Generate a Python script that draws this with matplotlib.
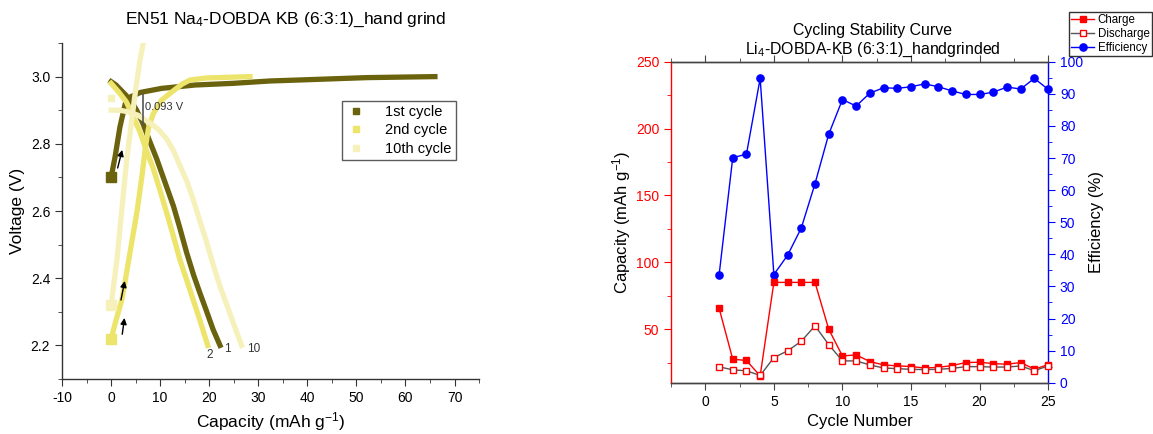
import matplotlib
matplotlib.use("Agg")
import matplotlib.pyplot as plt
from matplotlib.ticker import MultipleLocator

plt.rcParams['font.family'] = ['Liberation Sans', 'DejaVu Sans']
plt.rcParams['mathtext.fontset'] = 'custom'
plt.rcParams['mathtext.rm'] = 'Liberation Sans'
plt.rcParams['mathtext.it'] = 'Liberation Sans:italic'
plt.rcParams['axes.unicode_minus'] = False

# ---- left: galvanostatic curves ----
c1_charge_cap = [0, 0.8, 1.8, 2.9, 4.0, 6.0, 10.3, 17.1, 24.9, 32.4, 38.5, 52.1, 66.0]
c1_charge_v = [2.70, 2.76, 2.85, 2.92, 2.94, 2.953, 2.965, 2.975, 2.98, 2.987, 2.99, 2.997, 3.0]
c1_dis_cap = [0, 1.0, 2.0, 3.0, 4.2, 5.2, 6.5, 7.8, 9.3, 11.0, 12.7, 14.0, 15.4, 16.8, 18.1, 19.5,
              20.8, 22.2]
c1_dis_v = [2.985, 2.975, 2.96, 2.945, 2.925, 2.90, 2.86, 2.81, 2.755, 2.685, 2.615, 2.55, 2.476,
            2.41, 2.356, 2.30, 2.247, 2.2]

c2_charge_cap = [0, 1.1, 2.2, 3.2, 4.2, 5.3, 6.3, 7.0, 7.6, 8.6, 10.3, 12.7, 14.5, 16.1, 19.5, 28.3]
c2_charge_v = [2.22, 2.28, 2.336, 2.42, 2.506, 2.60, 2.705, 2.79, 2.845, 2.89, 2.93, 2.958, 2.978,
               2.99, 2.996, 3.0]
c2_dis_cap = [0, 1.5, 3.1, 4.5, 5.9, 7.2, 8.6, 10.0, 11.3, 12.7, 14.0, 15.4, 16.7, 18.2, 19.7]
c2_dis_v = [2.98, 2.955, 2.925, 2.88, 2.835, 2.78, 2.726, 2.66, 2.596, 2.525, 2.456, 2.395, 2.337,
            2.27, 2.2]

c10_charge_cap = [0, 1.2, 2.2, 3.2, 4.2, 5.0, 5.9, 6.7]
c10_charge_v = [2.32, 2.456, 2.606, 2.755, 2.87, 2.96, 3.05, 3.11]
c10_dis_cap = [0, 1.8, 3.5, 5.5, 7.6, 9.5, 11.3, 12.7, 14.0, 15.4, 16.7, 18.1, 19.5, 20.8, 22.2,
               23.6, 24.9, 26.6]
c10_dis_v = [2.90, 2.90, 2.895, 2.885, 2.865, 2.845, 2.815, 2.78, 2.736, 2.69, 2.636, 2.57, 2.506,
             2.44, 2.376, 2.32, 2.267, 2.2]
c10_extra_cap = [0]
c10_extra_v = [2.935]

cycle_labels = ['1st cycle', '2nd cycle', '10th cycle']
end_labels = ['1', '2', '10']
colors = ['#6b620e', '#ede46c', '#f6f1bb']

# ---- right: cycling stability ----
cycles = list(range(1, 26))
charge = [65.9, 27.6, 26.6, 15.1, 85, 85, 85, 85, 50, 30, 30.8, 25.8, 23.3, 22.6, 22.1,
          21.0, 21.5, 22.8, 25.1, 25.3, 24.3, 23.8, 25.1, 20.1, 23.5]
discharge = [21.9, 19.6, 18.9, 15.4, 28.8, 33.8, 41, 52.5, 38.5, 26.3, 26.3, 23.3, 21.0, 20.5, 20.0,
             19.8, 20.0, 20.7, 22.0, 22.0, 21.7, 21.7, 22.5, 19.0, 22.5]
efficiency = [33.4, 70.1, 71.2, 94.8, 33.7, 39.7, 48.2, 62.0, 77.4, 88.2, 86.2, 90.2, 91.9, 91.7, 92.2,
              93.1, 92.2, 90.9, 89.8, 89.8, 90.5, 92.1, 91.5, 94.8, 91.4]

fig = plt.figure(figsize=(11.53, 4.34), dpi=100)

# ================= left chart =================
ax = fig.add_axes([0.0538, 0.1267, 0.3617, 0.7742])
curves = [
    (c1_charge_cap, c1_charge_v, c1_dis_cap, c1_dis_v),
    (c2_charge_cap, c2_charge_v, c2_dis_cap, c2_dis_v),
    (c10_charge_cap, c10_charge_v, c10_dis_cap, c10_dis_v),
]
for i, (cc, cv, dc, dv) in enumerate(curves):
    ax.plot(cc, cv, color=colors[i], lw=3.8, solid_capstyle='projecting', solid_joinstyle='round',
            marker='s', ms=7, markevery=[0], zorder=2 + i)
    ax.plot(dc, dv, color=colors[i], lw=3.8, solid_capstyle='projecting', solid_joinstyle='round',
            zorder=2 + i)
    ax.plot([], [], ls='none', marker='s', ms=4.5, color=colors[i], label=cycle_labels[i])
ax.plot(c10_extra_cap, c10_extra_v, ls='none', marker='s', ms=4, color=colors[2], zorder=4)

ax.text(c1_dis_cap[-1] + 0.8, 2.19, end_labels[0], fontsize=8.5, color='#333333', va='center')
ax.text(c2_dis_cap[-1] - 0.3, 2.17, end_labels[1], fontsize=8.5, color='#333333', va='center')
ax.text(c10_dis_cap[-1] + 1.2, 2.19, end_labels[2], fontsize=8.5, color='#333333', va='center')

ax.plot([6.47, 6.47], [2.947, 2.86], color='#555555', lw=1.2, zorder=6)
ax.text(7.0, 2.91, '0.093 V', fontsize=8, color='#333333', va='center', zorder=6)

for x0, y0, x1, y1 in [(1.2, 2.72, 2.4, 2.79), (1.9, 2.327, 2.9, 2.40), (2.2, 2.225, 2.8, 2.29)]:
    ax.annotate('', xy=(x1, y1), xytext=(x0, y0),
                arrowprops=dict(arrowstyle='-|>', color='black', lw=1.0, mutation_scale=9), zorder=7)

ax.set_xlim(-10, 75)
ax.set_ylim(2.1, 3.1)
ax.xaxis.set_major_locator(MultipleLocator(10))
ax.xaxis.set_minor_locator(MultipleLocator(5))
ax.yaxis.set_minor_locator(MultipleLocator(0.1))
ax.set_yticks([2.2, 2.4, 2.6, 2.8, 3.0])
ax.yaxis.set_major_formatter(plt.FuncFormatter(lambda v, p: f'{v:.1f}'))
for s in ['top', 'right']:
    ax.spines[s].set_visible(False)
for s in ['left', 'bottom']:
    ax.spines[s].set_color('#333333')
    ax.spines[s].set_linewidth(1.0)
ax.tick_params(which='both', direction='out', colors='#333333', labelcolor='black', labelsize=10)
ax.tick_params(which='major', length=5)
ax.tick_params(which='minor', length=3)
ax.set_xlabel('Capacity (mAh g$^{-1}$)', fontsize=12.5)
ax.set_ylabel('Voltage (V)', fontsize=12.5)
ax.set_title('EN51 Na$_4$-DOBDA KB (6:3:1)_hand grind', fontsize=12.5, x=0.535, pad=14)
leg = ax.legend(loc='upper left', bbox_to_anchor=(0.655, 0.85), fontsize=10.5, frameon=True,
                fancybox=False, edgecolor='#333333', handlelength=1.2, handletextpad=1.4,
                borderpad=0.3, labelspacing=0.3)
leg.get_frame().set_linewidth(1.0)

# ================= right chart =================
ax1 = fig.add_axes([0.582, 0.1182, 0.327, 0.7396])
ax2 = ax1.twinx()

l1, = ax1.plot(cycles, charge, color='red', lw=1.0, marker='s', ms=4.8, mfc='red', mec='red',
               label='Charge', clip_on=False)
l2, = ax1.plot(cycles, discharge, color='#555555', lw=1.0, marker='s', ms=4.8, mfc='white',
               mec='red', mew=1.0, label='Discharge', clip_on=False)
l3, = ax2.plot(cycles, efficiency, color='blue', lw=1.0, marker='o', ms=5.2, mfc='blue', mec='blue',
               label='Efficiency', clip_on=False)

ax1.set_xlim(-2.5, 25)
ax1.set_ylim(10, 250)
ax2.set_ylim(0, 100)
ax1.xaxis.set_major_locator(MultipleLocator(5))
ax1.xaxis.set_minor_locator(MultipleLocator(2.5))
ax1.yaxis.set_major_locator(MultipleLocator(50))
ax1.yaxis.set_minor_locator(MultipleLocator(25))
ax2.yaxis.set_major_locator(MultipleLocator(10))
ax2.yaxis.set_minor_locator(MultipleLocator(5))

ax1.spines['left'].set_color('red')
ax1.spines['right'].set_visible(False)
ax2.spines['right'].set_color('blue')
ax2.spines['left'].set_visible(False)
for a in (ax1, ax2):
    a.spines['top'].set_color('#444444')
    a.spines['bottom'].set_color('#444444')
    for s in a.spines.values():
        s.set_linewidth(1.0)

ax1.tick_params(axis='y', which='both', direction='out', colors='red', labelsize=10)
ax2.tick_params(axis='y', which='both', direction='out', colors='blue', labelsize=10)
ax1.tick_params(axis='x', which='both', direction='out', colors='#444444', labelcolor='black',
                labelsize=10, top=True)
for a in (ax1, ax2):
    a.tick_params(which='major', length=5)
    a.tick_params(which='minor', length=3)
ax1.set_xlabel('Cycle Number', fontsize=12)
ax1.set_ylabel('Capacity (mAh g$^{-1}$)', fontsize=12, labelpad=2)
ax2.set_ylabel('Efficiency (%)', fontsize=12)
ax1.set_title('Cycling Stability Curve\nLi$_4$-DOBDA-KB (6:3:1)_handgrinded', fontsize=11.4, x=0.535,
              linespacing=1.2, pad=6)
ax2.set_zorder(ax1.get_zorder() - 1)
ax1.patch.set_visible(False)

fleg = fig.legend(handles=[l1, l2, l3], loc='upper right', bbox_to_anchor=(1.0, 0.975),
                  fontsize=8.3, frameon=True, fancybox=False, edgecolor='black',
                  handlelength=2.0, handletextpad=0.3, borderpad=0.2, labelspacing=0.15,
                  borderaxespad=0.1)
fleg.get_frame().set_linewidth(1.0)

fig.savefig('out.png', dpi=100)
